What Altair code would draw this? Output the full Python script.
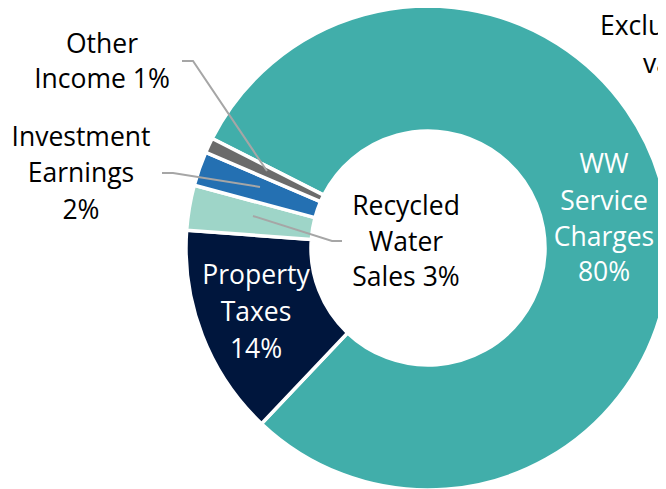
import math
import altair as alt
import pandas as pd

# ---- data ----
categories = ["WW Service Charges", "Property Taxes", "Recycled Water Sales", "Investment Earnings", "Other Income"]
values = [79.6, 14.1, 3.0, 2.3, 1.0]
colors = ["#41AEAA", "#00163D", "#9ED5C8", "#2470B2", "#6B6B6B"]

# label lines (text, x, y, color)
label_text = ["Other", "Income 1%", "Investment", "Earnings", "2%",
              "Recycled", "Water", "Sales 3%",
              "Property", "Taxes", "14%",
              "WW", "Service", "Charges", "80%"]
label_x = [94, 94, 73, 73, 73, 398, 398, 398, 248, 248, 248, 596, 596, 596, 596]
label_y = [37, 72, 130, 166, 203, 199, 235, 270, 268, 305, 342, 157, 194, 230, 265]
label_color = ["black"] * 8 + ["white"] * 7

note_text = ["Exclu", "va"]
note_x = [592, 635]
note_y = [19, 57]

# leader lines (group id, x, y)
lead_group = [0, 0, 0, 1, 1, 1, 2, 2, 2]
lead_x = [174, 185, 259, 154, 165, 252, 245, 324, 334]
lead_y = [53, 53, 163, 165, 165, 179, 208, 233, 233]

W, H = 650, 481
start = math.radians(296.9)

df = pd.DataFrame({"category": categories, "value": values, "order": list(range(len(values)))})
lab = pd.DataFrame({"text": label_text, "x": label_x, "y": label_y, "c": label_color})
note = pd.DataFrame({"text": note_text, "x": note_x, "y": note_y})
lead = pd.DataFrame({"g": lead_group, "x": lead_x, "y": lead_y, "i": list(range(len(lead_x)))})

arcs = alt.Chart(df).mark_arc(radius=242, radius2=117, stroke="white", strokeWidth=3.5).encode(
    theta=alt.Theta("value:Q", stack=True, scale=alt.Scale(range=[start, start + 2 * math.pi])),
    order=alt.Order("order:Q"),
    color=alt.Color("category:N", scale=alt.Scale(domain=categories, range=colors), legend=None),
    x=alt.value(420),
    y=alt.value(240),
)

lines = alt.Chart(lead).mark_line(color="#A6A6A6", strokeWidth=2).encode(
    x=alt.X("x:Q", scale=None),
    y=alt.Y("y:Q", scale=None),
    detail="g:N",
    order="i:Q",
)

texts = alt.Chart(lab).mark_text(font="Open Sans", fontSize=26.5, baseline="middle", align="center").encode(
    x=alt.X("x:Q", scale=None),
    y=alt.Y("y:Q", scale=None),
    text="text:N",
    color=alt.Color("c:N", scale=None),
)

notes = alt.Chart(note).mark_text(font="Open Sans", fontSize=26.5, baseline="middle", align="left", color="black").encode(
    x=alt.X("x:Q", scale=None),
    y=alt.Y("y:Q", scale=None),
    text="text:N",
)

chart = alt.layer(arcs, lines, texts, notes).properties(
    width=W, height=H, autosize=alt.AutoSizeParams(type="none"), padding=0
).configure_view(stroke=None)

chart.save("out.html", embed_options={"renderer": "svg", "actions": False})
